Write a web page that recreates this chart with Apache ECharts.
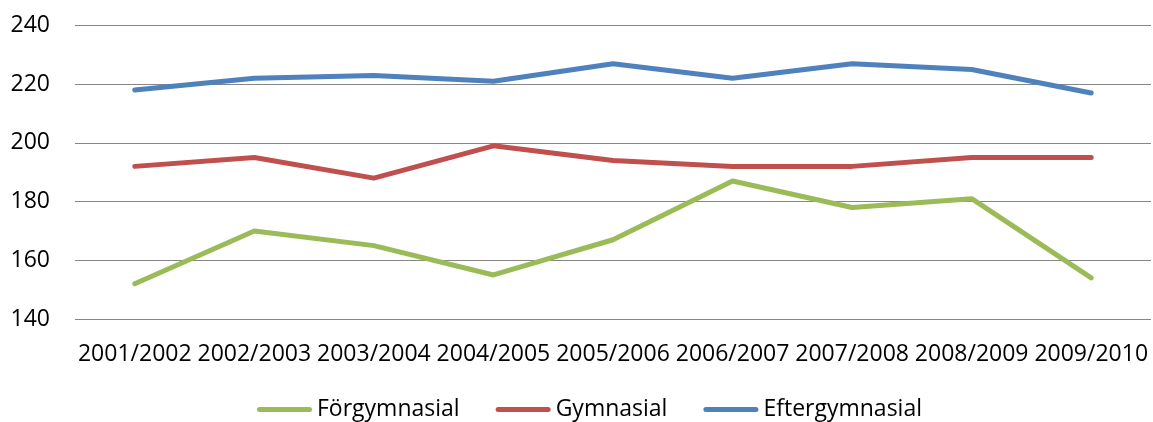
<!DOCTYPE html>
<html>
<head>
<meta charset="utf-8">
<script src="https://cdn.jsdelivr.net/npm/echarts@6/dist/echarts.min.js"></script>
<style>
  html, body { margin: 0; padding: 0; background: #fff; }
  #chart { width: 1153px; height: 422px; }
</style>
</head>
<body>
<div id="chart"></div>
<script>
// Läsår
const categories = ['2001/2002', '2002/2003', '2003/2004', '2004/2005', '2005/2006',
                    '2006/2007', '2007/2008', '2008/2009', '2009/2010'];

// Värden per utbildningsnivå
const forgymnasial   = [152, 170, 165, 155, 167, 187, 178, 181, 154];
const gymnasial      = [192, 195, 188, 199, 194, 192, 192, 195, 195];
const eftergymnasial = [218, 222, 223, 221, 227, 222, 227, 225, 217];

// Y-axelns skala
const yMin = 140, yMax = 240, yStep = 20;

const FONT = '"Open Sans", sans-serif';
const pill = 'path://M2.5,0H52.5A2.5,2.5 0 0 1 52.5,5H2.5A2.5,2.5 0 0 1 2.5,0Z';

function lineSeries(name, data, color) {
  return {
    name: name,
    type: 'line',
    data: data,
    symbol: 'none',
    smooth: false,
    lineStyle: { color: color, width: 5, cap: 'round', join: 'round' },
    itemStyle: { color: color },
    emphasis: { disabled: true }
  };
}

const chart = echarts.init(document.getElementById('chart'), null, { renderer: 'canvas' });
chart.setOption({
  animation: false,
  backgroundColor: '#ffffff',
  textStyle: { fontFamily: FONT },
  grid: { left: 75, right: 2, top: 25.5, bottom: 103, containLabel: false },
  legend: {
    left: 257,
    top: 398,
    padding: 0,
    icon: pill,
    itemWidth: 55,
    itemHeight: 5,
    itemGap: 36,
    textStyle: { fontFamily: FONT, fontSize: 23, color: '#000' },
    data: ['Förgymnasial', 'Gymnasial', 'Eftergymnasial']
  },
  xAxis: {
    type: 'category',
    data: categories,
    boundaryGap: true,
    axisLine: { show: false },
    axisTick: { show: false },
    axisLabel: { color: '#000', fontFamily: FONT, fontSize: 23, margin: 24, interval: 0 },
    splitLine: { show: false }
  },
  yAxis: {
    type: 'value',
    min: yMin,
    max: yMax,
    interval: yStep,
    axisLine: { show: false },
    axisTick: { show: false },
    axisLabel: { color: '#000', fontFamily: FONT, fontSize: 23, margin: 25 },
    splitLine: { show: true, lineStyle: { color: '#868686', width: 1.2 } }
  },
  series: [
    lineSeries('Förgymnasial', forgymnasial, '#9bbb59'),
    lineSeries('Gymnasial', gymnasial, '#c0504d'),
    lineSeries('Eftergymnasial', eftergymnasial, '#4f81bd')
  ]
});
</script>
</body>
</html>
